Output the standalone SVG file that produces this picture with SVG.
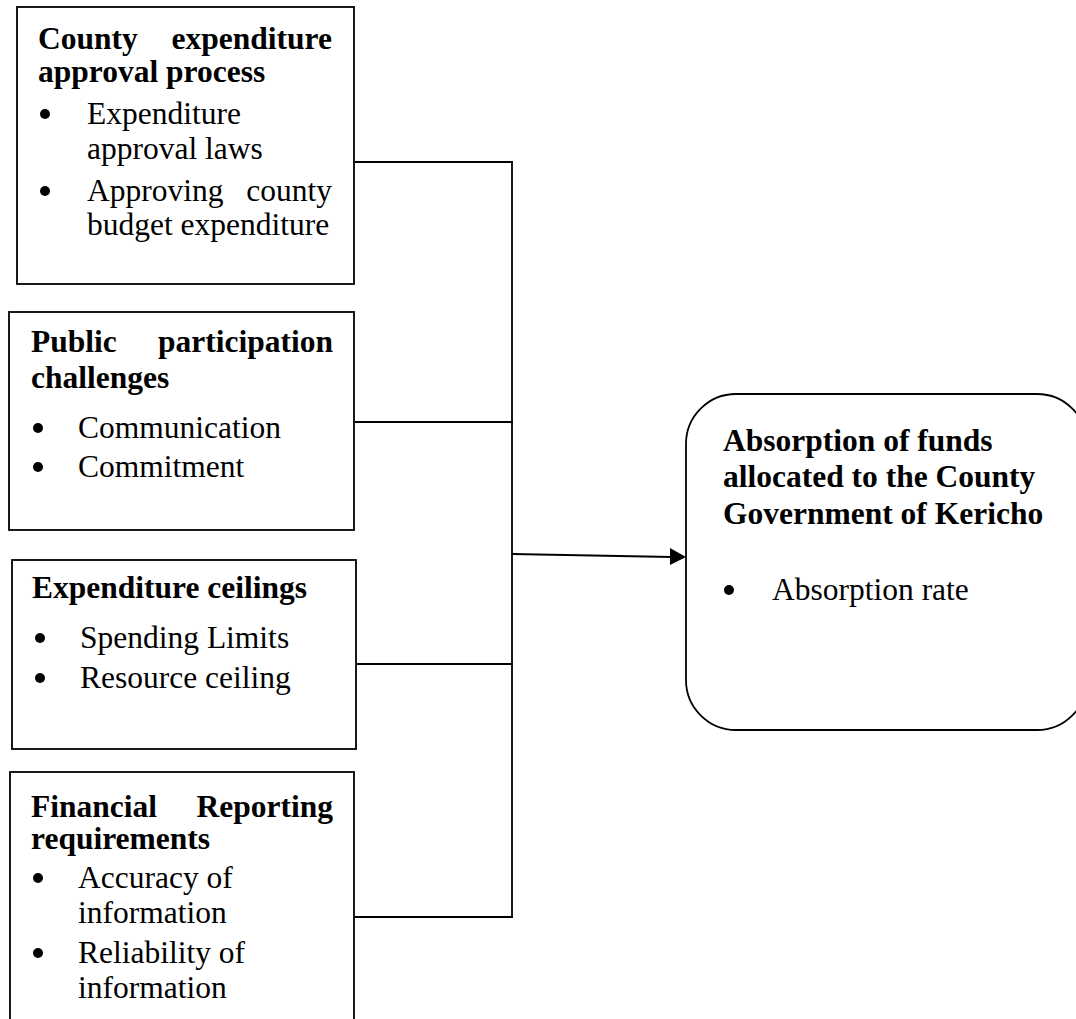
<svg xmlns="http://www.w3.org/2000/svg" width="1076" height="1019" viewBox="0 0 1076 1019">
<defs>
<style>
.box{fill:#fff;stroke:#000;stroke-width:1.8}
.ln{fill:none;stroke:#000;stroke-width:1.8}
.h{font-family:"Liberation Serif","Times New Roman",serif;font-size:31.5px;font-weight:bold;fill:#000}
.t{font-family:"Liberation Serif","Times New Roman",serif;font-size:31.5px;fill:#000}
.e{text-anchor:end}
.b{fill:#000}
</style>
</defs>
<rect width="1076" height="1019" fill="#fff"/>
<g id="connectors">
<line class="ln" x1="355" y1="162" x2="513" y2="162"/>
<line class="ln" x1="355" y1="422" x2="513" y2="422"/>
<line class="ln" x1="355" y1="664" x2="513" y2="664"/>
<line class="ln" x1="355" y1="917" x2="513" y2="917"/>
<line class="ln" x1="512" y1="161" x2="512" y2="918"/>
<line class="ln" x1="512" y1="554" x2="672" y2="557" style="stroke-width:2.2"/>
<polygon points="670,548 686,557 670,565" fill="#000"/>
</g>
<g id="node1">
<rect class="box" x="17" y="7" width="337" height="277"/>
<text class="h" x="38" y="49">County</text>
<text class="h e" x="332" y="49">expenditure</text>
<text class="h" x="38" y="82">approval process</text>
<circle class="b" cx="45" cy="114" r="5"/>
<text class="t" x="87" y="124">Expenditure</text>
<text class="t" x="87" y="159">approval laws</text>
<circle class="b" cx="45" cy="191" r="5"/>
<text class="t" x="87" y="201">Approving</text>
<text class="t e" x="332" y="201">county</text>
<text class="t" x="87" y="235">budget expenditure</text>
</g>
<g id="node2">
<rect class="box" x="9" y="312" width="345" height="218"/>
<text class="h" x="31" y="352">Public</text>
<text class="h e" x="333" y="352">participation</text>
<text class="h" x="31" y="388">challenges</text>
<circle class="b" cx="38" cy="428" r="5"/>
<text class="t" x="78" y="438">Communication</text>
<circle class="b" cx="38" cy="467" r="5"/>
<text class="t" x="78" y="477">Commitment</text>
</g>
<g id="node3">
<rect class="box" x="12" y="560" width="344" height="189"/>
<text class="h" x="32" y="598">Expenditure ceilings</text>
<circle class="b" cx="40" cy="638" r="5"/>
<text class="t" x="80" y="648">Spending Limits</text>
<circle class="b" cx="40" cy="678" r="5"/>
<text class="t" x="80" y="688">Resource ceiling</text>
</g>
<g id="node4">
<rect class="box" x="10" y="772" width="344" height="260"/>
<text class="h" x="31" y="817">Financial</text>
<text class="h e" x="333" y="817">Reporting</text>
<text class="h" x="31" y="849">requirements</text>
<circle class="b" cx="38" cy="878" r="5"/>
<text class="t" x="78" y="888">Accuracy of</text>
<text class="t" x="78" y="923">information</text>
<circle class="b" cx="38" cy="953" r="5"/>
<text class="t" x="78" y="963">Reliability of</text>
<text class="t" x="78" y="998">information</text>
</g>
<g id="node5">
<rect class="box" x="686" y="394" width="401" height="336" rx="50" ry="50"/>
<text class="h" x="723" y="451">Absorption of funds</text>
<text class="h" x="723" y="487">allocated to the County</text>
<text class="h" x="723" y="524">Government of Kericho</text>
<circle class="b" cx="729" cy="590" r="5"/>
<text class="t" x="772" y="600">Absorption rate</text>
</g>
</svg>
